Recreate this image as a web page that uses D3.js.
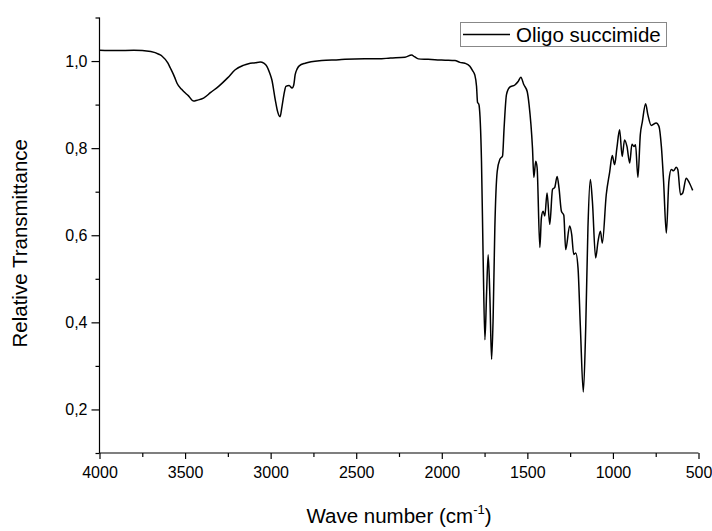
<!DOCTYPE html>
<html>
<head>
<meta charset="utf-8">
<script src="https://cdn.jsdelivr.net/npm/d3@7"></script>
<style>
  html, body { margin: 0; padding: 0; background: #fff; }
  svg { display: block; font-family: "Liberation Sans", Arial, sans-serif; }
</style>
</head>
<body>
<svg id="chart" width="712" height="531"></svg>
<script>
// ---- data (wavenumber in cm^-1, relative transmittance) ----
const wavenumbers = [
  4000, 3900, 3800, 3700, 3650, 3634, 3600, 3586, 3560, 3547, 3520, 3508, 3480, 3450, 3430, 3392,
  3350, 3304, 3250, 3207, 3160, 3129, 3090, 3061, 3040, 3022, 3005, 2993, 2973, 2960, 2945, 2934,
  2920, 2911, 2892, 2875, 2865, 2857, 2845, 2833, 2798, 2701, 2600, 2565, 2450, 2371, 2300, 2215,
  2176, 2160, 2137, 2080, 2040, 1980, 1923, 1894, 1865, 1836, 1820, 1807, 1797, 1791, 1785, 1782,
  1768, 1758, 1748, 1738, 1729, 1719, 1709, 1700, 1690, 1676, 1661, 1645, 1636, 1622, 1603, 1573,
  1554, 1538, 1521, 1501, 1490, 1470, 1462, 1451, 1443, 1427, 1418, 1408, 1398, 1385, 1369, 1353,
  1340, 1326, 1315, 1301, 1287, 1276, 1253, 1241, 1229, 1217, 1204, 1190, 1173, 1159, 1146, 1132,
  1120, 1101, 1087, 1073, 1062, 1039, 1019, 1004, 990, 977, 961, 946, 932, 918, 902, 889,
  877, 868, 854, 840, 828, 809, 796, 776, 747, 731, 717, 704, 688, 673, 659, 646,
  630, 621, 605, 592, 572, 553, 534
];
const transmittance = [
  1.025, 1.024, 1.025, 1.022, 1.015, 1.011, 0.995, 0.984, 0.962, 0.949, 0.935, 0.930, 0.920, 0.908, 0.910, 0.915,
  0.928, 0.942, 0.962, 0.980, 0.990, 0.994, 0.996, 0.998, 0.995, 0.988, 0.972, 0.957, 0.911, 0.885, 0.872, 0.895,
  0.928, 0.942, 0.944, 0.938, 0.945, 0.968, 0.982, 0.989, 0.995, 1.001, 1.003, 1.004, 1.005, 1.005, 1.007, 1.009,
  1.014, 1.010, 1.005, 1.004, 1.003, 1.002, 1.001, 0.997, 0.995, 0.988, 0.978, 0.968, 0.942, 0.905, 0.902, 0.898,
  0.770, 0.540, 0.360, 0.470, 0.555, 0.460, 0.315, 0.410, 0.617, 0.747, 0.774, 0.782, 0.846, 0.923, 0.940, 0.945,
  0.953, 0.963, 0.946, 0.930, 0.900, 0.800, 0.733, 0.770, 0.755, 0.572, 0.640, 0.655, 0.644, 0.697, 0.625, 0.705,
  0.710, 0.735, 0.708, 0.655, 0.646, 0.567, 0.621, 0.602, 0.556, 0.559, 0.525, 0.387, 0.240, 0.387, 0.617, 0.728,
  0.678, 0.548, 0.586, 0.609, 0.582, 0.693, 0.745, 0.783, 0.762, 0.800, 0.842, 0.781, 0.819, 0.804, 0.766, 0.809,
  0.804, 0.808, 0.733, 0.831, 0.861, 0.902, 0.877, 0.852, 0.858, 0.850, 0.804, 0.724, 0.605, 0.724, 0.751, 0.748,
  0.756, 0.751, 0.693, 0.697, 0.731, 0.720, 0.703
];
const xMajorTicks = [4000, 3500, 3000, 2500, 2000, 1500, 1000, 500];
const xMinorTicks = [3750, 3250, 2750, 2250, 1750, 1250, 750];
const yMajorTicks = [0.2, 0.4, 0.6, 0.8, 1.0];
const yMinorTicks = [0.1, 0.3, 0.5, 0.7, 0.9, 1.1];
const seriesName = "Oligo succimide";
const xTitle = "Wave number (cm";
const xTitleSup = "-1";
const yTitle = "Relative Transmittance";

// ---- drawing ----
const svg = d3.select("#chart");
const pLeft = 99.5, pRight = 698.5, pTop = 17.5, pBottom = 453;

const x = d3.scaleLinear().domain([4000, 500]).range([pLeft, pRight]);
const y = d3.scaleLinear().domain([0.1, 1.1]).range([pBottom, pTop]);

const fmt = v => d3.format(".1f")(v).replace(".", ",");

// y axis
const gy = svg.append("g").attr("transform", `translate(${pLeft},0)`);
gy.call(d3.axisLeft(y).tickValues(yMinorTicks).tickSize(4).tickFormat(""));
const gyMaj = svg.append("g").attr("transform", `translate(${pLeft},0)`);
gyMaj.call(d3.axisLeft(y).tickValues(yMajorTicks).tickSize(8).tickPadding(4).tickFormat(fmt));
gyMaj.select(".domain").remove();

// x axis
const gx = svg.append("g").attr("transform", `translate(0,${pBottom})`);
gx.call(d3.axisBottom(x).tickValues(xMinorTicks).tickSize(4).tickFormat(""));
const gxMaj = svg.append("g").attr("transform", `translate(0,${pBottom})`);
gxMaj.call(d3.axisBottom(x).tickValues(xMajorTicks).tickSize(6).tickPadding(8).tickFormat(d3.format("d")));
gxMaj.select(".domain").remove();

svg.selectAll(".domain").attr("stroke", "#000").attr("stroke-width", 1.2);
svg.selectAll(".tick line").attr("stroke", "#000").attr("stroke-width", 1.2);
svg.selectAll(".tick text").attr("font-size", 16).attr("fill", "#000")
   .attr("font-family", "'Liberation Sans', Arial, sans-serif");

gy.select(".domain").attr("d", `M0,${pBottom}V${pTop}`);
gx.select(".domain").attr("d", `M${pLeft},0H${pRight}`);

// spectrum line
const data = wavenumbers.map((w, i) => ({ w, t: transmittance[i] }));
const line = d3.line().x(d => x(d.w)).y(d => y(d.t)).curve(d3.curveMonotoneX);
svg.append("path").datum(data)
  .attr("d", line)
  .attr("fill", "none")
  .attr("stroke", "#000")
  .attr("stroke-width", 1.5)
  .attr("stroke-linejoin", "round");

// axis titles
const xt = svg.append("text")
  .attr("x", (pLeft + pRight) / 2)
  .attr("y", 523)
  .attr("text-anchor", "middle")
  .attr("font-size", 20.5)
  .attr("fill", "#000");
xt.append("tspan").text(xTitle);
xt.append("tspan").attr("font-size", 13).attr("dy", -9).text(xTitleSup);
xt.append("tspan").attr("dy", 9).text(")");

svg.append("text")
  .attr("transform", `translate(27,${(pTop + pBottom) / 2 + 8}) rotate(-90)`)
  .attr("text-anchor", "middle")
  .attr("font-size", 20.5)
  .attr("fill", "#000")
  .text(yTitle);

// legend
const lg = svg.append("g");
lg.append("rect")
  .attr("x", 460.5).attr("y", 22.5).attr("width", 206).attr("height", 24)
  .attr("fill", "#fff").attr("stroke", "#888").attr("stroke-width", 1);
lg.append("line")
  .attr("x1", 463).attr("x2", 510).attr("y1", 34.5).attr("y2", 34.5)
  .attr("stroke", "#000").attr("stroke-width", 1.5);
lg.append("text")
  .attr("x", 516).attr("y", 41.5)
  .attr("font-size", 20.5).attr("fill", "#000")
  .text(seriesName);
</script>
</body>
</html>
